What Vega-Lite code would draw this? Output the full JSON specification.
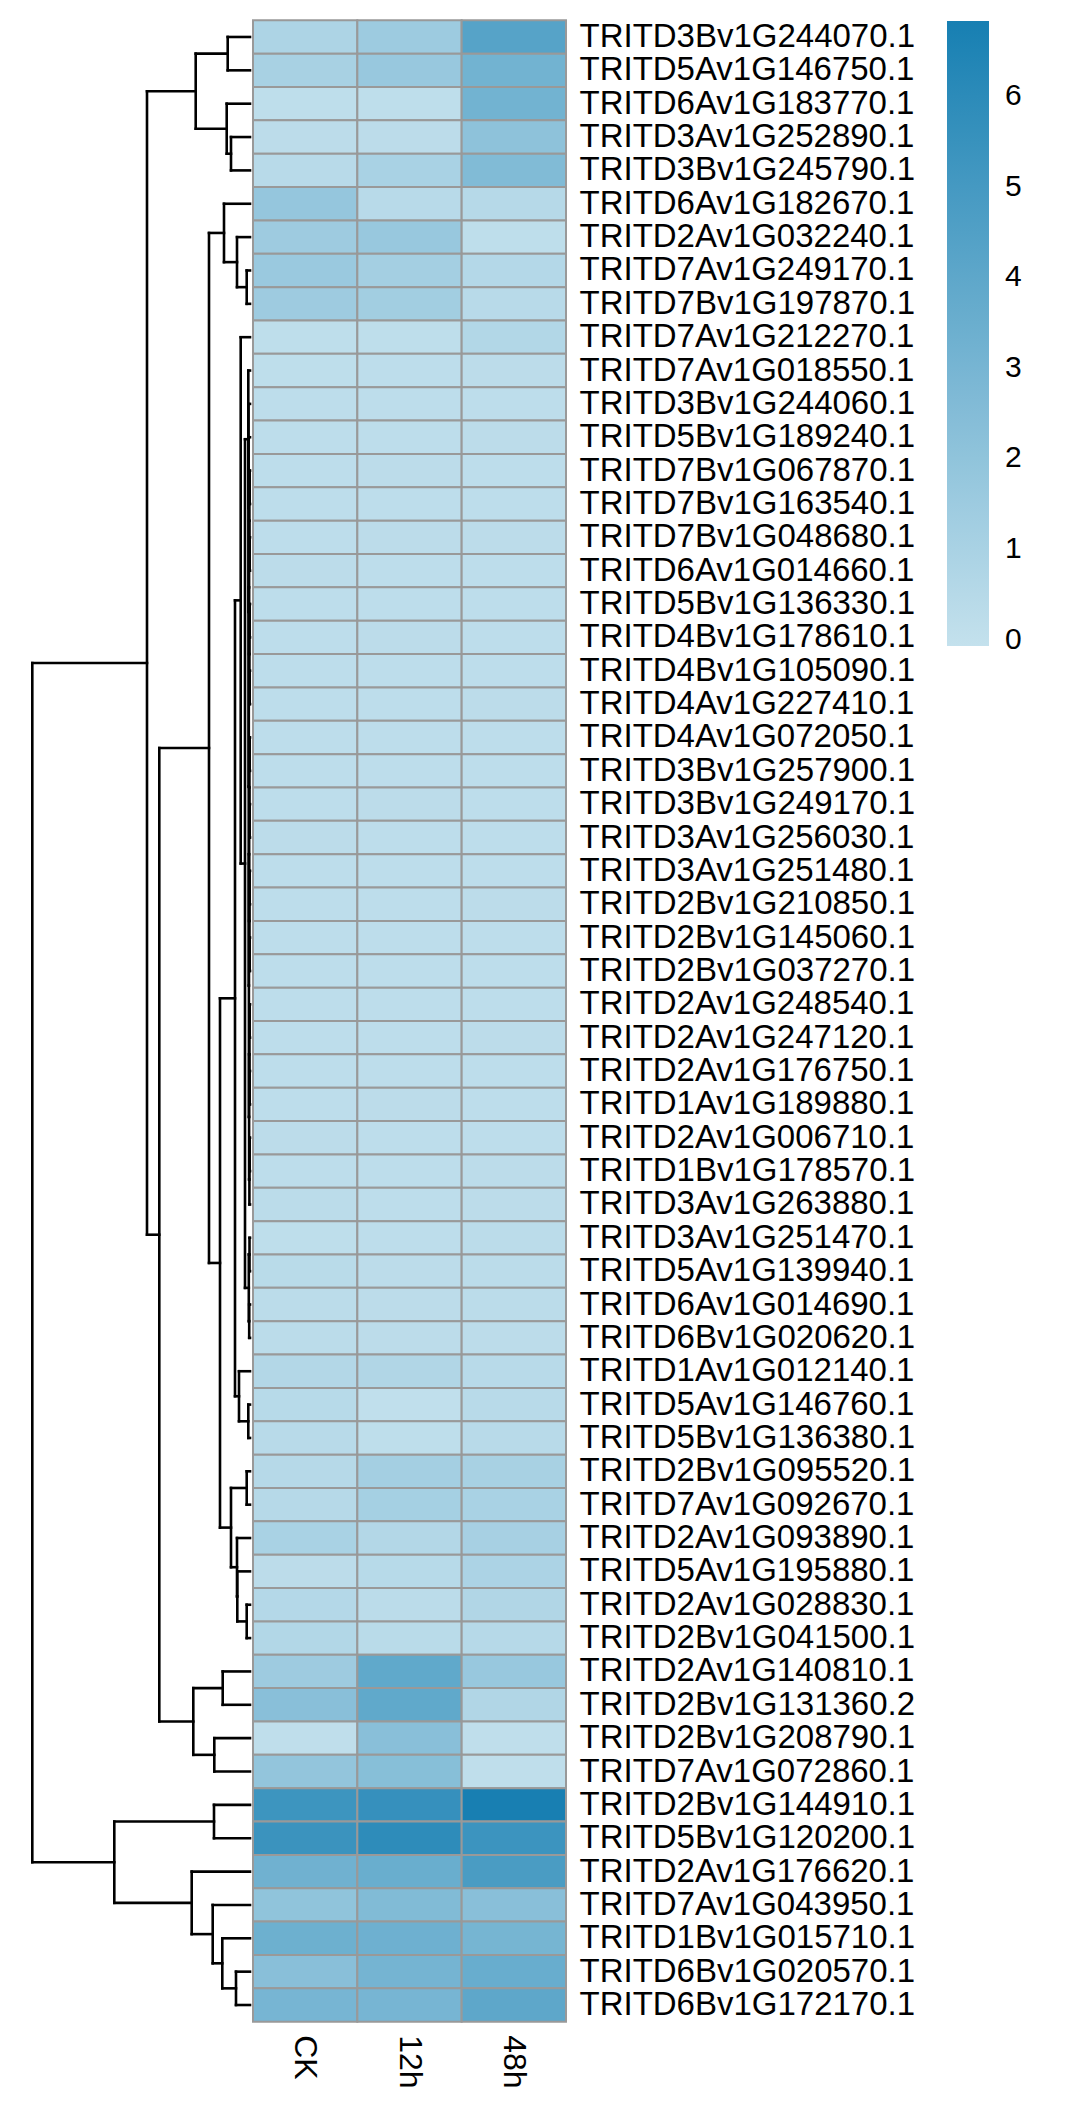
{
 "$schema": "https://vega.github.io/schema/vega-lite/v6.json",
 "padding": {"left": 0, "top": 19.3, "right": 0, "bottom": 0},
 "background": "white",
 "spacing": 0,
 "config": {"view": {"stroke": null}, "font": "Liberation Sans", "concat": {"spacing": 0}},
 "datasets": {
  "nodes": [
   {"n":"A","h":2.23,"ya":1,"ha":0,"yb":2,"hb":0},
   {"n":"B","h":1.9,"ya":4,"ha":0,"yb":5,"hb":0},
   {"n":"C","h":2.33,"ya":3,"ha":0,"yb":4.5,"hb":1.9},
   {"n":"D","h":5.43,"ya":1.5,"ha":2.23,"yb":3.75,"hb":2.33},
   {"n":"K","h":0.33,"ya":8,"ha":0,"yb":9,"hb":0},
   {"n":"J","h":1.3,"ya":7,"ha":0,"yb":8.5,"hb":0.33},
   {"n":"I","h":2.6,"ya":6,"ha":0,"yb":7.75,"hb":1.3},
   {"n":"p1415","h":0.03,"ya":14,"ha":0,"yb":15,"hb":0},
   {"n":"p1617","h":0.03,"ya":16,"ha":0,"yb":17,"hb":0},
   {"n":"p1819","h":0.03,"ya":18,"ha":0,"yb":19,"hb":0},
   {"n":"p2021","h":0.03,"ya":20,"ha":0,"yb":21,"hb":0},
   {"n":"p2223","h":0.03,"ya":22,"ha":0,"yb":23,"hb":0},
   {"n":"p2425","h":0.03,"ya":24,"ha":0,"yb":25,"hb":0},
   {"n":"p2627","h":0.03,"ya":26,"ha":0,"yb":27,"hb":0},
   {"n":"p2829","h":0.03,"ya":28,"ha":0,"yb":29,"hb":0},
   {"n":"p3031","h":0.03,"ya":30,"ha":0,"yb":31,"hb":0},
   {"n":"p3233","h":0.03,"ya":32,"ha":0,"yb":33,"hb":0},
   {"n":"p3435","h":0.03,"ya":34,"ha":0,"yb":35,"hb":0},
   {"n":"q1","h":0.06,"ya":14.5,"ha":0.03,"yb":16.5,"hb":0.03},
   {"n":"q2","h":0.06,"ya":18.5,"ha":0.03,"yb":20.5,"hb":0.03},
   {"n":"q3","h":0.06,"ya":22.5,"ha":0.03,"yb":24.5,"hb":0.03},
   {"n":"q4","h":0.06,"ya":26.5,"ha":0.03,"yb":28.5,"hb":0.03},
   {"n":"q5","h":0.06,"ya":30.5,"ha":0.03,"yb":32.5,"hb":0.03},
   {"n":"q6","h":0.06,"ya":34.5,"ha":0.03,"yb":36,"hb":0},
   {"n":"r1","h":0.09,"ya":15.5,"ha":0.06,"yb":19.5,"hb":0.06},
   {"n":"r2","h":0.09,"ya":23.5,"ha":0.06,"yb":27.5,"hb":0.06},
   {"n":"r3","h":0.09,"ya":31.5,"ha":0.06,"yb":35.25,"hb":0.06},
   {"n":"s1","h":0.11,"ya":25.5,"ha":0.09,"yb":33.375,"hb":0.09},
   {"n":"X2","h":0.12,"ya":17.5,"ha":0.09,"yb":29.4375,"hb":0.11},
   {"n":"X","h":0.14,"ya":13,"ha":0,"yb":23.469,"hb":0.12},
   {"n":"W","h":0.15,"ya":12,"ha":0,"yb":18.234,"hb":0.14},
   {"n":"V","h":0.17,"ya":11,"ha":0,"yb":15.117,"hb":0.15},
   {"n":"O2a","h":0.05,"ya":37,"ha":0,"yb":38,"hb":0},
   {"n":"O2b","h":0.08,"ya":39,"ha":0,"yb":40,"hb":0},
   {"n":"O2","h":0.12,"ya":37.5,"ha":0.05,"yb":39.5,"hb":0.08},
   {"n":"O","h":0.5,"ya":13.059,"ha":0.17,"yb":38.5,"hb":0.12},
   {"n":"N","h":0.93,"ya":10,"ha":0,"yb":25.78,"hb":0.5},
   {"n":"Q1","h":0.17,"ya":42,"ha":0,"yb":43,"hb":0},
   {"n":"Q","h":1.1,"ya":41,"ha":0,"yb":42.5,"hb":0.17},
   {"n":"M","h":1.5,"ya":17.89,"ha":0.93,"yb":41.75,"hb":1.1},
   {"n":"P44","h":0.33,"ya":44,"ha":0,"yb":45,"hb":0},
   {"n":"P48","h":0.33,"ya":48,"ha":0,"yb":49,"hb":0},
   {"n":"S","h":1.27,"ya":47,"ha":0,"yb":48.5,"hb":0.33},
   {"n":"T","h":1.3,"ya":46,"ha":0,"yb":47.75,"hb":1.27},
   {"n":"U","h":1.9,"ya":44.5,"ha":0.33,"yb":46.875,"hb":1.3},
   {"n":"L","h":3.0,"ya":29.82,"ha":1.5,"yb":45.6875,"hb":1.9},
   {"n":"G","h":4.1,"ya":6.875,"ha":2.6,"yb":37.754,"hb":3.0},
   {"n":"P50","h":2.73,"ya":50,"ha":0,"yb":51,"hb":0},
   {"n":"P52","h":3.57,"ya":52,"ha":0,"yb":53,"hb":0},
   {"n":"H","h":5.67,"ya":50.5,"ha":2.73,"yb":52.5,"hb":3.57},
   {"n":"F","h":9.07,"ya":22.314,"ha":4.1,"yb":51.5,"hb":5.67},
   {"n":"E","h":10.3,"ya":2.625,"ha":5.43,"yb":36.907,"hb":9.07},
   {"n":"P54","h":3.6,"ya":54,"ha":0,"yb":55,"hb":0},
   {"n":"P59","h":1.4,"ya":59,"ha":0,"yb":60,"hb":0},
   {"n":"P58","h":2.77,"ya":58,"ha":0,"yb":59.5,"hb":1.4},
   {"n":"P57","h":3.73,"ya":57,"ha":0,"yb":58.75,"hb":2.77},
   {"n":"P56","h":5.83,"ya":56,"ha":0,"yb":57.875,"hb":3.73},
   {"n":"BOT","h":13.57,"ya":54.5,"ha":3.6,"yb":56.9375,"hb":5.83},
   {"n":"ROOT","h":21.77,"ya":19.766,"ha":10.3,"yb":55.719,"hb":13.57}
  ],
  "cells": [
   {"g":"TRITD3Bv1G244070.1","t":"CK","v":0.85},{"g":"TRITD3Bv1G244070.1","t":"12h","v":1.5},{"g":"TRITD3Bv1G244070.1","t":"48h","v":4.3},
   {"g":"TRITD5Av1G146750.1","t":"CK","v":1.05},{"g":"TRITD5Av1G146750.1","t":"12h","v":1.7},{"g":"TRITD5Av1G146750.1","t":"48h","v":3.2},
   {"g":"TRITD6Av1G183770.1","t":"CK","v":0.15},{"g":"TRITD6Av1G183770.1","t":"12h","v":0.15},{"g":"TRITD6Av1G183770.1","t":"48h","v":3.2},
   {"g":"TRITD3Av1G252890.1","t":"CK","v":0.25},{"g":"TRITD3Av1G252890.1","t":"12h","v":0.25},{"g":"TRITD3Av1G252890.1","t":"48h","v":2.1},
   {"g":"TRITD3Bv1G245790.1","t":"CK","v":0.4},{"g":"TRITD3Bv1G245790.1","t":"12h","v":1.0},{"g":"TRITD3Bv1G245790.1","t":"48h","v":2.6},
   {"g":"TRITD6Av1G182670.1","t":"CK","v":1.8},{"g":"TRITD6Av1G182670.1","t":"12h","v":0.4},{"g":"TRITD6Av1G182670.1","t":"48h","v":0.5},
   {"g":"TRITD2Av1G032240.1","t":"CK","v":1.45},{"g":"TRITD2Av1G032240.1","t":"12h","v":1.7},{"g":"TRITD2Av1G032240.1","t":"48h","v":0.15},
   {"g":"TRITD7Av1G249170.1","t":"CK","v":1.6},{"g":"TRITD7Av1G249170.1","t":"12h","v":1.2},{"g":"TRITD7Av1G249170.1","t":"48h","v":0.55},
   {"g":"TRITD7Bv1G197870.1","t":"CK","v":1.45},{"g":"TRITD7Bv1G197870.1","t":"12h","v":1.3},{"g":"TRITD7Bv1G197870.1","t":"48h","v":0.4},
   {"g":"TRITD7Av1G212270.1","t":"CK","v":0.15},{"g":"TRITD7Av1G212270.1","t":"12h","v":0.15},{"g":"TRITD7Av1G212270.1","t":"48h","v":0.65},
   {"g":"TRITD7Av1G018550.1","t":"CK","v":0.15},{"g":"TRITD7Av1G018550.1","t":"12h","v":0.2},{"g":"TRITD7Av1G018550.1","t":"48h","v":0.25},
   {"g":"TRITD3Bv1G244060.1","t":"CK","v":0.2},{"g":"TRITD3Bv1G244060.1","t":"12h","v":0.2},{"g":"TRITD3Bv1G244060.1","t":"48h","v":0.2},
   {"g":"TRITD5Bv1G189240.1","t":"CK","v":0.2},{"g":"TRITD5Bv1G189240.1","t":"12h","v":0.2},{"g":"TRITD5Bv1G189240.1","t":"48h","v":0.25},
   {"g":"TRITD7Bv1G067870.1","t":"CK","v":0.2},{"g":"TRITD7Bv1G067870.1","t":"12h","v":0.25},{"g":"TRITD7Bv1G067870.1","t":"48h","v":0.2},
   {"g":"TRITD7Bv1G163540.1","t":"CK","v":0.2},{"g":"TRITD7Bv1G163540.1","t":"12h","v":0.2},{"g":"TRITD7Bv1G163540.1","t":"48h","v":0.2},
   {"g":"TRITD7Bv1G048680.1","t":"CK","v":0.2},{"g":"TRITD7Bv1G048680.1","t":"12h","v":0.25},{"g":"TRITD7Bv1G048680.1","t":"48h","v":0.25},
   {"g":"TRITD6Av1G014660.1","t":"CK","v":0.25},{"g":"TRITD6Av1G014660.1","t":"12h","v":0.2},{"g":"TRITD6Av1G014660.1","t":"48h","v":0.2},
   {"g":"TRITD5Bv1G136330.1","t":"CK","v":0.2},{"g":"TRITD5Bv1G136330.1","t":"12h","v":0.2},{"g":"TRITD5Bv1G136330.1","t":"48h","v":0.2},
   {"g":"TRITD4Bv1G178610.1","t":"CK","v":0.2},{"g":"TRITD4Bv1G178610.1","t":"12h","v":0.25},{"g":"TRITD4Bv1G178610.1","t":"48h","v":0.2},
   {"g":"TRITD4Bv1G105090.1","t":"CK","v":0.2},{"g":"TRITD4Bv1G105090.1","t":"12h","v":0.2},{"g":"TRITD4Bv1G105090.1","t":"48h","v":0.2},
   {"g":"TRITD4Av1G227410.1","t":"CK","v":0.2},{"g":"TRITD4Av1G227410.1","t":"12h","v":0.2},{"g":"TRITD4Av1G227410.1","t":"48h","v":0.25},
   {"g":"TRITD4Av1G072050.1","t":"CK","v":0.2},{"g":"TRITD4Av1G072050.1","t":"12h","v":0.2},{"g":"TRITD4Av1G072050.1","t":"48h","v":0.2},
   {"g":"TRITD3Bv1G257900.1","t":"CK","v":0.2},{"g":"TRITD3Bv1G257900.1","t":"12h","v":0.2},{"g":"TRITD3Bv1G257900.1","t":"48h","v":0.2},
   {"g":"TRITD3Bv1G249170.1","t":"CK","v":0.2},{"g":"TRITD3Bv1G249170.1","t":"12h","v":0.25},{"g":"TRITD3Bv1G249170.1","t":"48h","v":0.2},
   {"g":"TRITD3Av1G256030.1","t":"CK","v":0.25},{"g":"TRITD3Av1G256030.1","t":"12h","v":0.2},{"g":"TRITD3Av1G256030.1","t":"48h","v":0.2},
   {"g":"TRITD3Av1G251480.1","t":"CK","v":0.2},{"g":"TRITD3Av1G251480.1","t":"12h","v":0.2},{"g":"TRITD3Av1G251480.1","t":"48h","v":0.2},
   {"g":"TRITD2Bv1G210850.1","t":"CK","v":0.2},{"g":"TRITD2Bv1G210850.1","t":"12h","v":0.2},{"g":"TRITD2Bv1G210850.1","t":"48h","v":0.25},
   {"g":"TRITD2Bv1G145060.1","t":"CK","v":0.2},{"g":"TRITD2Bv1G145060.1","t":"12h","v":0.2},{"g":"TRITD2Bv1G145060.1","t":"48h","v":0.2},
   {"g":"TRITD2Bv1G037270.1","t":"CK","v":0.2},{"g":"TRITD2Bv1G037270.1","t":"12h","v":0.2},{"g":"TRITD2Bv1G037270.1","t":"48h","v":0.2},
   {"g":"TRITD2Av1G248540.1","t":"CK","v":0.2},{"g":"TRITD2Av1G248540.1","t":"12h","v":0.2},{"g":"TRITD2Av1G248540.1","t":"48h","v":0.2},
   {"g":"TRITD2Av1G247120.1","t":"CK","v":0.2},{"g":"TRITD2Av1G247120.1","t":"12h","v":0.2},{"g":"TRITD2Av1G247120.1","t":"48h","v":0.25},
   {"g":"TRITD2Av1G176750.1","t":"CK","v":0.2},{"g":"TRITD2Av1G176750.1","t":"12h","v":0.2},{"g":"TRITD2Av1G176750.1","t":"48h","v":0.2},
   {"g":"TRITD1Av1G189880.1","t":"CK","v":0.2},{"g":"TRITD1Av1G189880.1","t":"12h","v":0.25},{"g":"TRITD1Av1G189880.1","t":"48h","v":0.2},
   {"g":"TRITD2Av1G006710.1","t":"CK","v":0.25},{"g":"TRITD2Av1G006710.1","t":"12h","v":0.2},{"g":"TRITD2Av1G006710.1","t":"48h","v":0.2},
   {"g":"TRITD1Bv1G178570.1","t":"CK","v":0.2},{"g":"TRITD1Bv1G178570.1","t":"12h","v":0.2},{"g":"TRITD1Bv1G178570.1","t":"48h","v":0.25},
   {"g":"TRITD3Av1G263880.1","t":"CK","v":0.3},{"g":"TRITD3Av1G263880.1","t":"12h","v":0.2},{"g":"TRITD3Av1G263880.1","t":"48h","v":0.25},
   {"g":"TRITD3Av1G251470.1","t":"CK","v":0.15},{"g":"TRITD3Av1G251470.1","t":"12h","v":0.2},{"g":"TRITD3Av1G251470.1","t":"48h","v":0.3},
   {"g":"TRITD5Av1G139940.1","t":"CK","v":0.35},{"g":"TRITD5Av1G139940.1","t":"12h","v":0.25},{"g":"TRITD5Av1G139940.1","t":"48h","v":0.3},
   {"g":"TRITD6Av1G014690.1","t":"CK","v":0.3},{"g":"TRITD6Av1G014690.1","t":"12h","v":0.25},{"g":"TRITD6Av1G014690.1","t":"48h","v":0.3},
   {"g":"TRITD6Bv1G020620.1","t":"CK","v":0.3},{"g":"TRITD6Bv1G020620.1","t":"12h","v":0.25},{"g":"TRITD6Bv1G020620.1","t":"48h","v":0.25},
   {"g":"TRITD1Av1G012140.1","t":"CK","v":0.6},{"g":"TRITD1Av1G012140.1","t":"12h","v":0.7},{"g":"TRITD1Av1G012140.1","t":"48h","v":0.4},
   {"g":"TRITD5Av1G146760.1","t":"CK","v":0.45},{"g":"TRITD5Av1G146760.1","t":"12h","v":0.1},{"g":"TRITD5Av1G146760.1","t":"48h","v":0.4},
   {"g":"TRITD5Bv1G136380.1","t":"CK","v":0.4},{"g":"TRITD5Bv1G136380.1","t":"12h","v":0.15},{"g":"TRITD5Bv1G136380.1","t":"48h","v":0.4},
   {"g":"TRITD2Bv1G095520.1","t":"CK","v":0.5},{"g":"TRITD2Bv1G095520.1","t":"12h","v":1.2},{"g":"TRITD2Bv1G095520.1","t":"48h","v":1.05},
   {"g":"TRITD7Av1G092670.1","t":"CK","v":0.5},{"g":"TRITD7Av1G092670.1","t":"12h","v":1.15},{"g":"TRITD7Av1G092670.1","t":"48h","v":1.0},
   {"g":"TRITD2Av1G093890.1","t":"CK","v":1.0},{"g":"TRITD2Av1G093890.1","t":"12h","v":0.6},{"g":"TRITD2Av1G093890.1","t":"48h","v":1.1},
   {"g":"TRITD5Av1G195880.1","t":"CK","v":0.25},{"g":"TRITD5Av1G195880.1","t":"12h","v":0.45},{"g":"TRITD5Av1G195880.1","t":"48h","v":0.9},
   {"g":"TRITD2Av1G028830.1","t":"CK","v":0.55},{"g":"TRITD2Av1G028830.1","t":"12h","v":0.3},{"g":"TRITD2Av1G028830.1","t":"48h","v":0.7},
   {"g":"TRITD2Bv1G041500.1","t":"CK","v":0.65},{"g":"TRITD2Bv1G041500.1","t":"12h","v":0.35},{"g":"TRITD2Bv1G041500.1","t":"48h","v":0.5},
   {"g":"TRITD2Av1G140810.1","t":"CK","v":1.45},{"g":"TRITD2Av1G140810.1","t":"12h","v":3.9},{"g":"TRITD2Av1G140810.1","t":"48h","v":1.7},
   {"g":"TRITD2Bv1G131360.2","t":"CK","v":2.3},{"g":"TRITD2Bv1G131360.2","t":"12h","v":3.9},{"g":"TRITD2Bv1G131360.2","t":"48h","v":0.7},
   {"g":"TRITD2Bv1G208790.1","t":"CK","v":0.13},{"g":"TRITD2Bv1G208790.1","t":"12h","v":2.3},{"g":"TRITD2Bv1G208790.1","t":"48h","v":0.13},
   {"g":"TRITD7Av1G072860.1","t":"CK","v":1.9},{"g":"TRITD7Av1G072860.1","t":"12h","v":2.35},{"g":"TRITD7Av1G072860.1","t":"48h","v":0.13},
   {"g":"TRITD2Bv1G144910.1","t":"CK","v":5.3},{"g":"TRITD2Bv1G144910.1","t":"12h","v":5.6},{"g":"TRITD2Bv1G144910.1","t":"48h","v":6.8},
   {"g":"TRITD5Bv1G120200.1","t":"CK","v":5.4},{"g":"TRITD5Bv1G120200.1","t":"12h","v":5.9},{"g":"TRITD5Bv1G120200.1","t":"48h","v":5.35},
   {"g":"TRITD2Av1G176620.1","t":"CK","v":3.3},{"g":"TRITD2Av1G176620.1","t":"12h","v":3.55},{"g":"TRITD2Av1G176620.1","t":"48h","v":4.8},
   {"g":"TRITD7Av1G043950.1","t":"CK","v":2.0},{"g":"TRITD7Av1G043950.1","t":"12h","v":2.6},{"g":"TRITD7Av1G043950.1","t":"48h","v":2.3},
   {"g":"TRITD1Bv1G015710.1","t":"CK","v":3.4},{"g":"TRITD1Bv1G015710.1","t":"12h","v":3.35},{"g":"TRITD1Bv1G015710.1","t":"48h","v":3.05},
   {"g":"TRITD6Bv1G020570.1","t":"CK","v":2.3},{"g":"TRITD6Bv1G020570.1","t":"12h","v":3.1},{"g":"TRITD6Bv1G020570.1","t":"48h","v":3.6},
   {"g":"TRITD6Bv1G172170.1","t":"CK","v":3.0},{"g":"TRITD6Bv1G172170.1","t":"12h","v":3.0},{"g":"TRITD6Bv1G172170.1","t":"48h","v":4.0}
  ]
 },
 "hconcat": [
  {
   "width": 250,
   "height": 2001.4,
   "data": {"name": "nodes"},
   "layer": [
    {
     "mark": {"type": "rule", "strokeWidth": 2.6, "color": "black", "strokeCap": "square"},
     "encoding": {
      "x": {"field": "h", "type": "quantitative", "scale": {"domain": [0, 25], "reverse": true, "nice": false, "zero": false}, "axis": null},
      "y": {"field": "ya", "type": "quantitative", "scale": {"domain": [0.5, 60.5], "reverse": true, "nice": false, "zero": false}, "axis": null},
      "y2": {"field": "yb"}
     }
    },
    {
     "mark": {"type": "rule", "strokeWidth": 2.6, "color": "black", "strokeCap": "square"},
     "encoding": {
      "x": {"field": "ha", "type": "quantitative", "axis": null},
      "x2": {"field": "h"},
      "y": {"field": "ya", "type": "quantitative", "axis": null}
     }
    },
    {
     "mark": {"type": "rule", "strokeWidth": 2.6, "color": "black", "strokeCap": "square"},
     "encoding": {
      "x": {"field": "hb", "type": "quantitative", "axis": null},
      "x2": {"field": "h"},
      "y": {"field": "yb", "type": "quantitative", "axis": null}
     }
    }
   ]
  },
  {
   "width": 313,
   "height": 2001.4,
   "data": {"name": "cells"},
   "mark": {"type": "rect", "stroke": "#999999", "strokeWidth": 2},
   "encoding": {
    "x": {"field": "t", "type": "nominal", "sort": null, "scale": {"paddingInner": 0, "paddingOuter": 0},
     "axis": {"title": null, "labelAngle": 90, "labelFontSize": 32, "labelPadding": 13, "ticks": false, "domain": false, "labelColor": "black", "labelFont": "Liberation Sans"}},
    "y": {"field": "g", "type": "nominal", "sort": null, "scale": {"paddingInner": 0, "paddingOuter": 0},
     "axis": {"orient": "right", "title": null, "labelFontSize": 33, "labelPadding": 13, "ticks": false, "domain": false, "labelColor": "black", "labelLimit": 0, "labelFont": "Liberation Sans"}},
    "color": {"field": "v", "type": "quantitative",
     "scale": {"domain": [-0.07, 6.83], "range": ["#c4e1ed", "#177fb2"], "interpolate": "rgb", "nice": false, "zero": false},
     "legend": {"orient": "none", "legendX": 947, "legendY": 0.7, "title": null, "direction": "vertical", "gradientLength": 625, "gradientThickness": 42, "gradientStrokeWidth": 0, "values": [0, 1, 2, 3, 4, 5, 6], "format": "d", "labelFontSize": 30, "labelOffset": 16, "labelOverlap": false, "padding": 0, "labelColor": "black", "labelFont": "Liberation Sans"}}
   }
  }
 ]
}
